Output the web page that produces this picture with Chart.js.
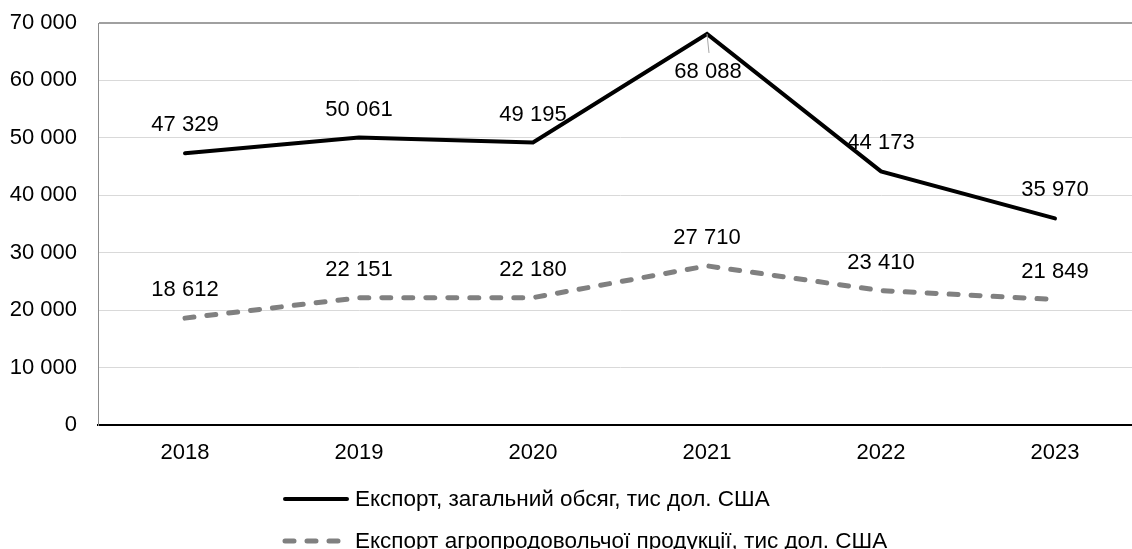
<!DOCTYPE html>
<html>
<head>
<meta charset="utf-8">
<script src="https://cdn.jsdelivr.net/npm/chart.js@4"></script>
<style>
  html, body { margin: 0; padding: 0; background: #fff; overflow: hidden; }
  #wrap { position: relative; width: 1142px; height: 549px; }
</style>
</head>
<body>
<div id="wrap"><canvas id="chart" width="1142" height="549"></canvas></div>
<script>
const years = ["2018", "2019", "2020", "2021", "2022", "2023"];
const exportTotal = [47329, 50061, 49195, 68088, 44173, 35970];
const exportAgro = [18612, 22151, 22180, 27710, 23410, 21849];
const totalLabel = "Експорт, загальний обсяг, тис дол. США";
const agroLabel = "Експорт агропродовольчої продукції, тис дол. США";

const FONT = "'Liberation Sans', Arial, sans-serif";

function fmt(v) {
  return String(Math.round(v)).replace(/\B(?=(\d{3})+(?!\d))/g, " ");
}

// data labels + bottom legend drawn on the canvas
const labelsPlugin = {
  id: "labels",
  afterDatasetsDraw(chart) {
    const ctx = chart.ctx;
    ctx.save();
    ctx.font = "22px " + FONT;
    ctx.fillStyle = "#000";
    ctx.textAlign = "center";
    ctx.textBaseline = "middle";
    chart.data.datasets.forEach((ds, i) => {
      const meta = chart.getDatasetMeta(i);
      meta.data.forEach((pt, j) => {
        const below = i === 0 && j === 3;
        if (below) {
          ctx.strokeStyle = "#a6a6a6";
          ctx.lineWidth = 1;
          ctx.beginPath();
          ctx.moveTo(pt.x, pt.y);
          ctx.lineTo(pt.x + 2, pt.y + 19);
          ctx.stroke();
          ctx.fillText(fmt(ds.data[j]), pt.x + 1, pt.y + 38);
        } else {
          ctx.fillText(fmt(ds.data[j]), pt.x, pt.y - 28);
        }
      });
    });

    // legend
    const rows = [
      { y: 499, ds: chart.data.datasets[0] },
      { y: 541, ds: chart.data.datasets[1] }
    ];
    ctx.textAlign = "left";
    ctx.font = "22.5px " + FONT;
    rows.forEach((r) => {
      ctx.beginPath();
      ctx.strokeStyle = r.ds.borderColor;
      ctx.lineWidth = r.ds.borderWidth;
      ctx.lineCap = "round";
      ctx.setLineDash(r.ds.borderDash || []);
      ctx.moveTo(285, r.y);
      ctx.lineTo(347, r.y);
      ctx.stroke();
      ctx.setLineDash([]);
      ctx.fillStyle = "#000";
      ctx.fillText(r.ds.label, 355, r.y + 1);
    });
    ctx.restore();
  }
};

new Chart(document.getElementById("chart"), {
  type: "line",
  data: {
    labels: years,
    datasets: [
      {
        label: totalLabel,
        data: exportTotal,
        borderColor: "#000000",
        borderWidth: 4,
        borderCapStyle: "round",
        pointRadius: 0,
        tension: 0,
        fill: false
      },
      {
        label: agroLabel,
        data: exportAgro,
        borderColor: "#808080",
        borderWidth: 5,
        borderDash: [9, 13],
        borderCapStyle: "round",
        pointRadius: 0,
        tension: 0,
        fill: false
      }
    ]
  },
  options: {
    responsive: false,
    animation: false,
    devicePixelRatio: 1,
    layout: { padding: { top: 23, left: 0, right: 0, bottom: 0 } },
    plugins: {
      legend: { display: false },
      tooltip: { enabled: false }
    },
    scales: {
      x: {
        offset: true,
        grid: { display: false, drawTicks: false },
        border: { color: "#000", width: 2 },
        ticks: {
          color: "#000",
          padding: 15,
          maxRotation: 0,
          font: { family: FONT, size: 22 }
        },
        afterFit(s) { s.height = 124; s.paddingLeft = 0; s.paddingRight = 0; }
      },
      y: {
        min: 0,
        max: 70000,
        grid: {
          drawTicks: false,
          color: (c) => (c.tick && c.tick.value === 70000 ? "#a0a0a0" : "#d9d9d9"),
          lineWidth: (c) => (c.tick && c.tick.value === 70000 ? 2 : 1)
        },
        border: { color: "#8c8c8c", width: 1 },
        ticks: {
          stepSize: 10000,
          color: "#000",
          padding: 21,
          font: { family: FONT, size: 22 },
          callback: (v) => fmt(v)
        },
        afterFit(s) { s.width = 98; s.paddingTop = 0; s.paddingBottom = 0; }
      }
    }
  },
  plugins: [labelsPlugin]
});
</script>
</body>
</html>
